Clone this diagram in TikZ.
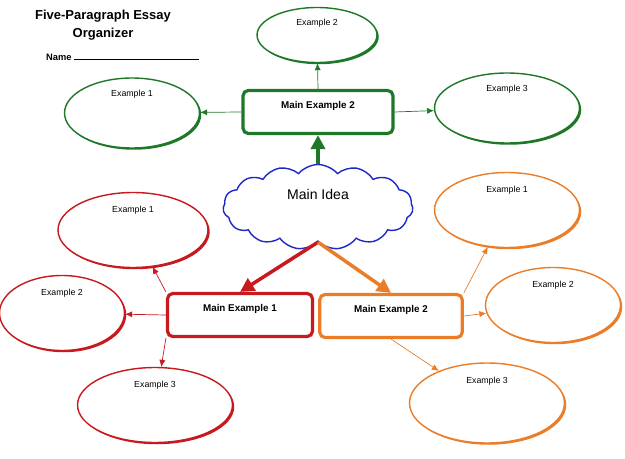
\documentclass[tikz,border=0pt]{standalone}
\usepackage{fontspec}
\setmainfont{Liberation Sans}
\usetikzlibrary{arrows.meta,shapes.symbols,shapes.geometric,shadows}
\definecolor{grn}{RGB}{30,120,40}
\definecolor{rd}{RGB}{200,25,30}
\definecolor{org}{RGB}{235,125,40}
\definecolor{blu}{RGB}{30,40,200}
\begin{document}
\begin{tikzpicture}[x=0.02cm,y=-0.02cm]

\tikzset{
  oval/.style={ellipse, draw=#1, thick, fill=white, font=\fontsize{5}{6}\selectfont,
    text depth=0pt, inner sep=0pt, drop shadow={fill=#1, shadow xshift=1pt, shadow yshift=-1pt, opacity=1}},
  mainbox/.style={rectangle, rounded corners=3pt, draw=#1, line width=1.8pt, fill=white,
    font=\bfseries\fontsize{5.6}{7}\selectfont, minimum height=0.86cm, text depth=8pt},
  link/.style={draw=#1, -{Latex[length=4pt,width=3.5pt]}},
  biglink/.style={draw=#1, line width=2pt, -{Triangle[length=8pt,width=8pt]}}
}

\useasboundingbox (0,0) rectangle (625,459);

\node[font=\bfseries\fontsize{7.4}{10}\selectfont, align=center] (title) at (103,25) {Five-Paragraph Essay\\Organizer};
\node[font=\bfseries\fontsize{5.3}{7}\selectfont, anchor=west] (name) at (40,57) {Name \rule{71pt}{0.4pt}};

% green branch
\node[mainbox=grn, minimum width=3cm] (g) at (318,112) {Main Example 2};
\node[oval=grn, minimum width=2.4cm, minimum height=1.1cm, text depth=14pt] (g2) at (317,35) {Example 2};
\node[oval=grn, minimum width=2.7cm, minimum height=1.4cm, text depth=22pt] (g1) at (132,113) {Example 1};
\node[oval=grn, minimum width=2.9cm, minimum height=1.4cm, text depth=22pt] (g3) at (507,108) {Example 3};

% cloud
\node[cloud, cloud puffs=15, cloud puff arc=100, aspect=2.2, draw=blu, thick, fill=white,
  minimum width=3.8cm, minimum height=1.7cm, font=\fontsize{8}{10}\selectfont, text depth=14pt] (idea) at (318,207) {Main Idea};

% red and orange branches
\node[mainbox=rd, minimum width=2.9cm] (r) at (240,315) {Main Example 1};
\node[mainbox=org, minimum width=2.85cm] (o) at (391,316) {Main Example 2};

\node[oval=rd, minimum width=3cm, minimum height=1.5cm, text depth=24pt] (r1) at (133,230) {Example 1};
\node[oval=rd, minimum width=2.5cm, minimum height=1.5cm, text depth=24pt] (r2) at (62,313) {Example 2};
\node[oval=rd, minimum width=3.1cm, minimum height=1.5cm, text depth=24pt] (r3) at (155,405) {Example 3};
\node[oval=org, minimum width=2.9cm, minimum height=1.5cm, text depth=24pt] (o1) at (507,210) {Example 1};
\node[oval=org, minimum width=2.7cm, minimum height=1.5cm, text depth=24pt] (o2) at (553,305) {Example 2};
\node[oval=org, minimum width=3.1cm, minimum height=1.6cm, text depth=26pt] (o3) at (487,403) {Example 3};

% connectors
\draw[link=grn] (g.north) -- (g2);
\draw[link=grn] (g.west) -- (g1);
\draw[link=grn] (g.east) -- (g3);
\draw[biglink=grn] (idea.north) -- (g.south);
\draw[biglink=rd] (idea.south) -- (r.north);
\draw[biglink=org] (idea.south) -- (o.north);
\draw[link=rd] (r.north west) -- (r1);
\draw[link=rd] (r.west) -- (r2);
\draw[link=rd] (r.south west) -- (r3);
\draw[link=org] (o.north east) -- (o1);
\draw[link=org] (o.east) -- (o2);
\draw[link=org] (o.south) -- (o3);

\end{tikzpicture}
\end{document}
